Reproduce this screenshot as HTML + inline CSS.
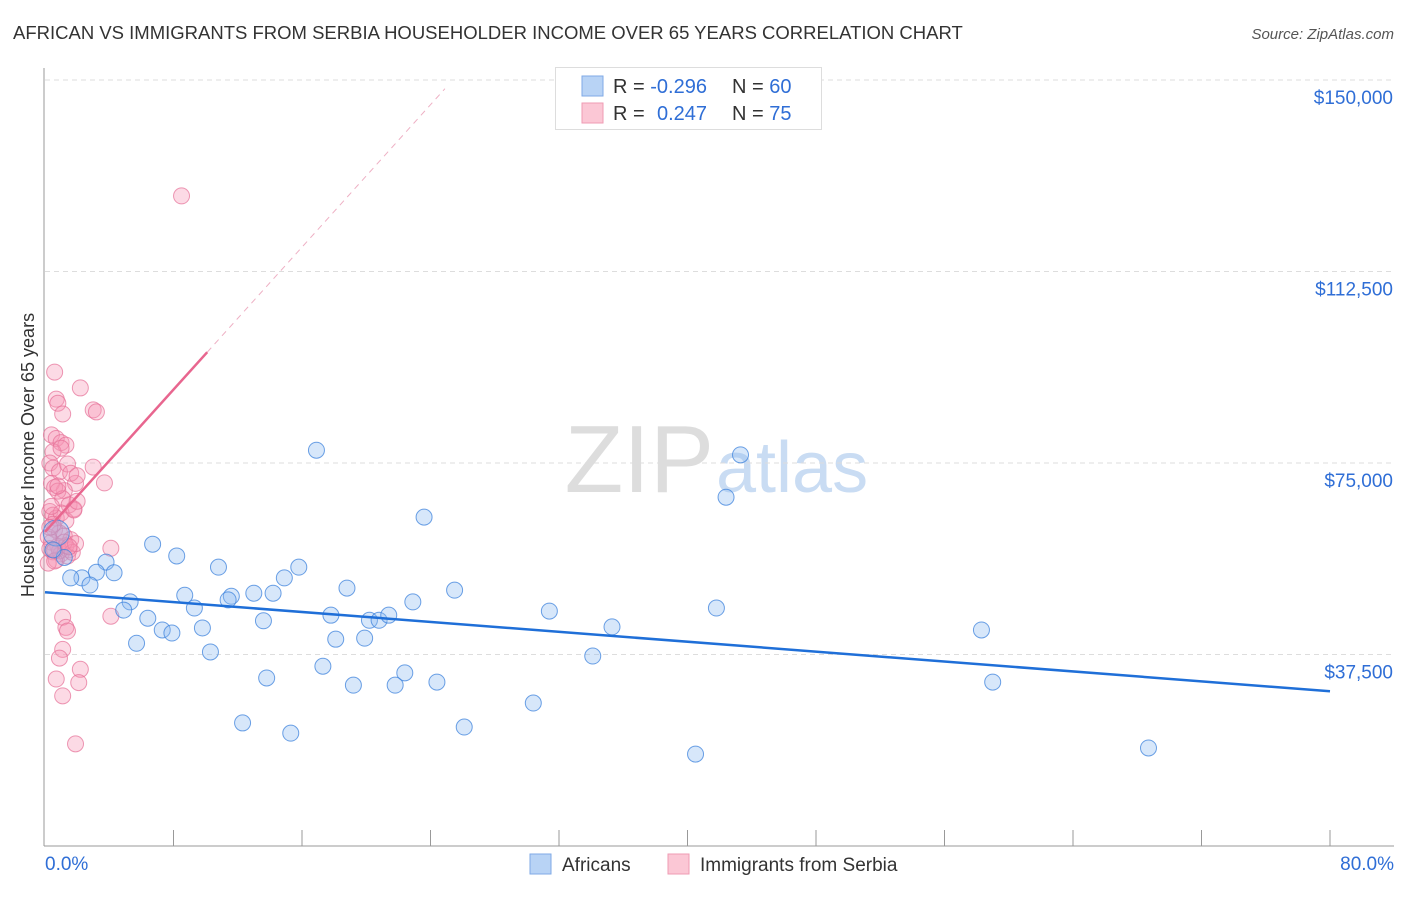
<!DOCTYPE html>
<html><head><meta charset="utf-8"><style>
body{margin:0;background:#fff;font-family:"Liberation Sans",sans-serif;}
svg text{font-family:"Liberation Sans",sans-serif;}
</style></head><body>
<svg id="chart" width="1406" height="892" viewBox="0 0 1406 892">
<text x="13" y="39" font-size="18.5" fill="#333">AFRICAN VS IMMIGRANTS FROM SERBIA HOUSEHOLDER INCOME OVER 65 YEARS CORRELATION CHART</text>
<text x="1394" y="39" font-size="15" fill="#555" text-anchor="end" font-style="italic">Source: ZipAtlas.com</text>
<text x="714" y="492" font-size="96" fill="#ddd" text-anchor="end" font-family="Liberation Serif">ZIP</text>
<text x="716" y="492" font-size="72" fill="#c9dcf3">atlas</text>
<g id="grid"></g>
<g id="axes"></g>
<g id="pts"></g>
<g id="lines"></g>
<text transform="translate(34,455) rotate(-90)" font-size="18" fill="#333" text-anchor="middle">Householder Income Over 65 years</text>
<g>
<rect x="555.5" y="67.5" width="266" height="62" fill="#fff" stroke="#ddd"/>
<rect x="582" y="76" width="21" height="20" fill="#b8d3f5" stroke="#7fa9e6"/>
<rect x="582" y="103" width="21" height="20" fill="#fbc7d5" stroke="#ef9bb3"/>
<text x="613" y="93" font-size="20" fill="#333">R = <tspan fill="#2f6ed6">-0.296</tspan><tspan x="732">N = </tspan><tspan fill="#2f6ed6">60</tspan></text>
<text x="613" y="120" font-size="20" fill="#333">R = <tspan x="657" fill="#2f6ed6">0.247</tspan><tspan x="732">N = </tspan><tspan fill="#2f6ed6">75</tspan></text>
</g>
<g>
<rect x="530" y="854" width="21" height="20" fill="#b8d3f5" stroke="#7fa9e6"/>
<text x="562" y="871" font-size="19" fill="#333">Africans</text>
<rect x="668" y="854" width="21" height="20" fill="#fbc7d5" stroke="#ef9bb3"/>
<text x="700" y="871" font-size="19" fill="#333">Immigrants from Serbia</text>
</g>
</svg>
<script>
const yTicks=[37500,75000,112500,150000];
const yTickLabels=["$37,500","$75,000","$112,500","$150,000"];
const xLabels=["0.0%","80.0%"];
const blueX=[6.7,8.2,3.8,4.3,3.2,2.3,2.8,1.6,10.8,15.8,14.9,16.9,23.6,43.3,42.4,8.7,9.3,11.6,11.4,13.0,14.2,18.8,25.5,22.9,5.3,4.9,6.4,9.8,7.3,7.9,13.6,17.8,20.2,20.8,21.4,18.1,19.9,5.7,10.3,31.4,35.3,41.8,58.3,34.1,17.3,22.4,13.8,19.2,21.8,24.4,59.0,30.4,12.3,15.3,26.1,40.5,68.7,0.7,1.2,0.5];
const blueY=[59.1,56.8,55.6,53.5,53.6,52.5,51.1,52.5,54.6,54.6,52.5,77.5,64.4,76.6,68.3,49.1,46.6,48.9,48.2,49.5,49.5,50.5,50.1,47.8,47.8,46.2,44.6,42.7,42.3,41.7,44.1,45.2,44.2,44.2,45.2,40.5,40.7,39.7,38.0,46.0,42.9,46.6,42.3,37.2,35.2,33.9,32.9,31.5,31.5,32.1,32.1,28.0,24.1,22.1,23.3,18.0,19.2,61.3,56.5,58.0];
const pinkX=[0.6,2.2,0.7,0.8,1.1,3.0,3.2,0.4,0.7,1.0,1.3,0.5,3.7,3.0,1.9,1.2,0.3,0.5,0.9,1.4,1.6,2.0,0.4,0.6,0.8,1.1,1.5,1.8,0.3,0.5,0.7,1.0,1.3,0.6,0.9,1.2,1.6,0.4,0.8,1.5,4.1,0.5,1.0,1.4,0.7,0.2,0.9,1.3,1.7,4.1,1.1,1.3,1.4,1.1,0.9,2.2,0.7,2.1,1.1,1.9,8.5,0.2,0.3,1.8,2.0,0.5,0.8,1.0,0.6,1.2,0.4,1.9,0.3,0.6,1.5];
const pinkY=[92.8,89.7,87.5,86.7,84.6,85.4,85.0,80.5,79.8,79.0,78.5,77.2,71.1,74.2,71.0,69.6,75.0,74.0,73.3,74.8,73.0,72.5,71.0,70.2,69.5,68.0,66.8,66.0,65.5,64.8,64.2,65.2,63.7,62.0,61.3,60.7,60.0,59.5,58.7,58.0,58.3,57.6,57.2,56.8,56.0,55.4,57.8,58.8,57.5,45.0,44.8,42.8,42.1,38.5,36.8,34.6,32.7,32.0,29.4,20.0,127.3,60.5,58.2,65.8,67.5,63.0,70.5,77.9,55.8,59.5,66.5,59.2,62.4,57.9,58.6];
const xs=p=>45+p*1285/80, ys=v=>846-v*766/150000, ysk=v=>ys(v*1000);
const NS="http://www.w3.org/2000/svg";
function mk(t,a,parent){const e=document.createElementNS(NS,t);for(const k in a)e.setAttribute(k,a[k]);document.getElementById(parent).appendChild(e);return e;}
yTicks.forEach((v,i)=>{
 const g=mk('line',{x1:45,x2:1394,y1:ys(v),y2:ys(v),stroke:'#ddd','stroke-dasharray':'5,4'},'grid');
 
 
 const t=mk('text',{x:1393,y:ys(v)+24,'font-size':19,fill:'#2f6ed6','text-anchor':'end'},'axes');
 t.textContent=yTickLabels[i];
 
 
});
const ya=mk('line',{x1:44,x2:44,y1:68,y2:846,stroke:'#999'},'axes');


const xa=mk('line',{x1:44,x2:1394,y1:846,y2:846,stroke:'#999'},'axes');


for(let i=1;i<=10;i++){const tk=mk('line',{x1:xs(i*8),x2:xs(i*8),y1:830,y2:846,stroke:'#999'},'axes');
 
 }
[[0,'start',45],[80,'end',1394]].forEach((d,i)=>{const t=mk('text',{x:d[2],y:870,'font-size':19,fill:'#2f6ed6','text-anchor':d[1]},'axes');t.textContent=xLabels[i];
 
 });
pinkX.forEach((x,i)=>{const c=mk('circle',{cx:xs(x),cy:ysk(pinkY[i]),r:8,fill:'rgba(245,150,180,0.35)',stroke:'rgba(230,110,150,0.7)','stroke-width':1},'pts');
 
 });
blueX.forEach((x,i)=>{const c=mk('circle',{cx:xs(x),cy:ysk(blueY[i]),r:i==57?13:8,fill:'rgba(140,185,240,0.35)',stroke:'rgba(60,130,220,0.75)','stroke-width':1},'pts');
 
 });
const bl=mk('line',{x1:xs(0),y1:ys(49700),x2:xs(80),y2:ys(30300),stroke:'#1f6fd8','stroke-width':2.5},'lines');


const pl=mk('line',{x1:xs(0),y1:ys(61500),x2:xs(10.1),y2:ys(96700),stroke:'#e8668f','stroke-width':2.5},'lines');


const pd=mk('line',{x1:xs(10.1),y1:ys(96700),x2:xs(24.9),y2:ys(148300),stroke:'#eeb0c4','stroke-width':1,'stroke-dasharray':'6,5'},'lines');


</script>
</body></html>
